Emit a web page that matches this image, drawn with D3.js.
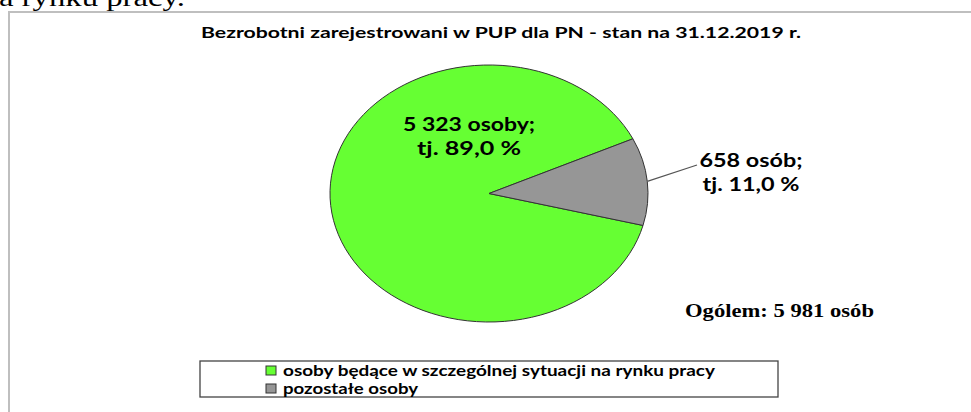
<!DOCTYPE html>
<html>
<head>
<meta charset="utf-8">
<script src="https://d3js.org/d3.v7.min.js"></script>
<style>
    body { margin: 0; background: #fff; }
    .cal { font-family: Lato, "Open Sans", sans-serif; font-weight: bold; }
    .tnr { font-family: "Liberation Serif", "Times New Roman", serif; }
</style>
</head>
<body>
<svg id="chart" width="971" height="412"></svg>
<script>
    // chart data
    const categories = ['osoby będące w szczególnej sytuacji na rynku pracy', 'pozostałe osoby'];
    const values = [5323, 658];
    const colors = ['#66ff33', '#969696'];
    const labelLines = [['5 323 osoby;', 'tj. 89,0 %'], ['658 osób;', 'tj. 11,0 %']];
    const title = 'Bezrobotni zarejestrowani w PUP dla PN - stan na 31.12.2019 r.';
    const totalLabel = 'Ogólem: 5 981 osób';

    const svg = d3.select('#chart');

    // fragment of the document text above the chart
    svg.append('text')
        .attr('class', 'tnr')
        .attr('x', -1).attr('y', 6)
        .attr('font-size', 26)
        .attr('textLength', 186).attr('lengthAdjust', 'spacingAndGlyphs')
        .text('a rynku pracy.');

    // chart frame
    svg.append('rect')
        .attr('x', 9).attr('y', 12)
        .attr('width', 1000).attr('height', 450)
        .attr('fill', '#fff')
        .attr('stroke', '#bfbfbf').attr('stroke-width', 2);

    svg.append('text')
        .attr('class', 'cal')
        .attr('x', 501).attr('y', 38)
        .attr('text-anchor', 'middle')
        .attr('font-size', 16)
        .attr('textLength', 600).attr('lengthAdjust', 'spacingAndGlyphs')
        .text(title);

    // pie, squashed into an ellipse
    const cx = 489, cy = 193.5, rx = 159, ry = 128.5;
    const a0 = 104.4 * Math.PI / 180;
    const pie = d3.pie().sort(null).startAngle(a0).endAngle(a0 + 2 * Math.PI);
    const arcs = pie(values);
    const arc = d3.arc().innerRadius(0).outerRadius(rx);

    const g = svg.append('g')
        .attr('transform', `translate(${cx},${cy}) scale(1,${ry / rx})`);
    g.selectAll('path').data(arcs).enter()
        .append('path')
        .attr('d', arc)
        .attr('fill', (d, i) => colors[i])
        .attr('stroke', '#333')
        .attr('stroke-width', 1)
        .attr('vector-effect', 'non-scaling-stroke');

    // leader line for the small slice
    const mid = (arcs[1].startAngle + arcs[1].endAngle) / 2;
    const ex = cx + rx * Math.sin(mid), ey = cy - ry * Math.cos(mid);
    svg.append('line')
        .attr('x1', ex).attr('y1', ey)
        .attr('x2', 697).attr('y2', 165)
        .attr('stroke', '#555').attr('stroke-width', 1.2);

    // data labels
    const labelPos = [{x: 469, y: 131, w: [132, 104]}, {x: 751, y: 167, w: [103, 97]}];
    labelLines.forEach(function(lines, i){
        lines.forEach(function(t, j){
            svg.append('text')
                .attr('class', 'cal')
                .attr('x', labelPos[i].x).attr('y', labelPos[i].y + j * 24)
                .attr('text-anchor', 'middle')
                .attr('font-size', 18)
                .attr('textLength', labelPos[i].w[j]).attr('lengthAdjust', 'spacingAndGlyphs')
                .text(t);
        });
    });

    svg.append('text')
        .attr('class', 'tnr')
        .attr('x', 685).attr('y', 317)
        .attr('font-size', 19).attr('font-weight', 'bold')
        .attr('textLength', 189).attr('lengthAdjust', 'spacingAndGlyphs')
        .text(totalLabel);

    // legend
    svg.append('rect')
        .attr('x', 200).attr('y', 361)
        .attr('width', 578).attr('height', 36)
        .attr('fill', '#fff')
        .attr('stroke', '#444').attr('stroke-width', 1.3);
    const legendW = [432, 135];
    const leg = svg.selectAll('.leg').data(categories).enter()
        .append('g').attr('class', 'leg')
        .attr('transform', (d, i) => `translate(266,${366 + i * 18})`);
    leg.append('rect')
        .attr('width', 10).attr('height', 9)
        .attr('fill', (d, i) => colors[i])
        .attr('stroke', '#333').attr('stroke-width', 1);
    leg.append('text')
        .attr('class', 'cal')
        .attr('x', 17).attr('y', 10)
        .attr('font-size', 15)
        .attr('textLength', (d, i) => legendW[i]).attr('lengthAdjust', 'spacingAndGlyphs')
        .text(d => d);
</script>
</body>
</html>
